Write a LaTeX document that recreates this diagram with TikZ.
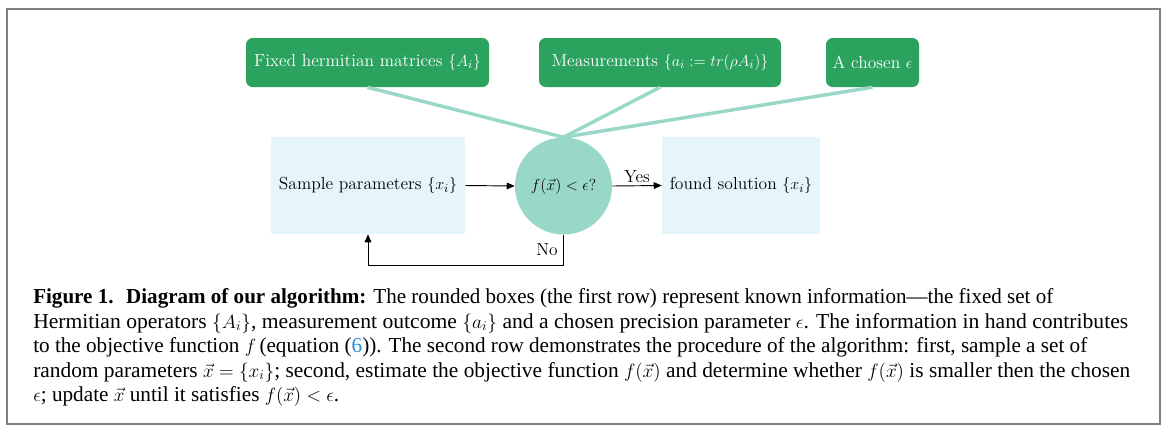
\documentclass[tikz,border=0pt]{standalone}
\usepackage{fontspec}
\usepackage{amsmath}
\usepackage{graphicx}
\newfontfamily\capfont{Liberation Serif}
\usetikzlibrary{arrows.meta}
\definecolor{bugnDark}{HTML}{2CA25F}
\definecolor{bugnMid}{HTML}{99D8C9}
\definecolor{bugnLight}{HTML}{E5F5F9}
\definecolor{framegray}{HTML}{808080}
\definecolor{reflink}{HTML}{1F8FD8}
% math inside the caption, set a little smaller than the caption text
\newcommand{\capmath}[1]{{\fontsize{14.5}{19}\selectfont$#1$}}
% one caption line, stretched to a given width
\newcommand{\capfit}[2]{\resizebox{#1}{\height}{#2}}
\tikzset{
  difont/.style={font=\fontsize{13.1}{15}\selectfont},
  known/.style={difont, fill=bugnDark, text=white, rounded corners=5pt,
    minimum height=36.75pt, inner sep=0pt},
  procbox/.style={difont, fill=bugnLight, minimum height=72.75pt, inner sep=0pt},
  testnode/.style={difont, circle, fill=bugnMid, minimum size=72.75pt, inner sep=0pt},
  feed/.style={bugnMid, line width=2.6pt},
  flow/.style={line width=0.7pt, -{Triangle[length=6pt,width=5pt]}},
  capline/.style={font=\capfont\fontsize{16}{19}\selectfont, anchor=base west, inner sep=0pt},
}
\begin{document}
\begin{tikzpicture}[x=0.75pt,y=-0.75pt]
\useasboundingbox (0,0) rectangle (1165,426);
\draw[framegray, line width=2.2pt] (7,9) rectangle (1160,424);

% first row: known information
\node[known, minimum width=182.25pt] (mats) at (367.5,62.5) {Fixed hermitian matrices $\{A_i\}$};
\node[known, minimum width=181.5pt] (meas) at (660,62.5) {Measurements $\{a_i:=tr(\rho A_i)\}$};
\node[known, minimum width=69.75pt] (eps) at (872.5,62.5) {A chosen $\epsilon$};

% second row: the procedure
\node[procbox, minimum width=145.5pt] (sample) at (368,185.5) {Sample parameters $\{x_i\}$};
\node[testnode] (test) at (563.5,186) {$f(\vec{x})<\epsilon?$};
\node[procbox, minimum width=118.5pt] (found) at (741,185.5) {found solution $\{x_i\}$};

% known information feeds the test
\draw[feed] (mats.south) -- (test.north);
\draw[feed] (meas.south) -- (test.north);
\draw[feed] (eps.south) -- (test.north);

% flow of the algorithm
\draw[flow] (sample.east) -- (test.west);
\draw[flow] (test.east) -- node[difont, above, inner sep=2pt] {Yes} (found.west);
\coordinate (turn) at (563.5,265);
\draw[flow] (test.south) -- node[difont, left, inner sep=4pt] {No} (turn) -| (sample.south);

% caption
\node[capline] (cap1) at (33,303) {\capfit{765pt}{{\bfseries Figure 1.\hspace{0.6em}Diagram of our algorithm:} The rounded boxes (the first row) represent known information—the fixed set of}};
\node[capline] (cap2) at (33,328) {\capfit{821.25pt}{Hermitian operators \capmath{\{A_i\}}, measurement outcome \capmath{\{a_i\}} and a chosen precision parameter \capmath{\epsilon}. The information in hand contributes}};
\node[capline] (cap3) at (33,352.5) {\capfit{790.5pt}{to the objective function \capmath{f}\,(equation ({\color{reflink}6})). The second row demonstrates the procedure of the algorithm: first, sample a set of}};
\node[capline] (cap4) at (33,377) {\capfit{822.75pt}{random parameters \capmath{\vec{x}=\{x_i\}}; second, estimate the objective function \capmath{f(\vec{x})} and determine whether \capmath{f(\vec{x})} is smaller then the chosen}};
\node[capline] (cap5) at (33,401.5) {\capfit{229.5pt}{\capmath{\epsilon}; update \capmath{\vec{x}} until it satisfies \capmath{f(\vec{x})<\epsilon}.}};
\end{tikzpicture}
\end{document}
